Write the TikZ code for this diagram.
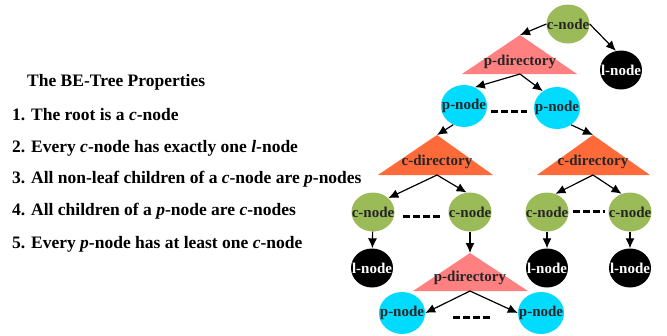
\documentclass[tikz,border=0pt]{standalone}
\usepackage{fontspec}
\setmainfont{Liberation Serif}
\usetikzlibrary{shapes.geometric,arrows.meta}
\definecolor{cgreen}{HTML}{9BBB59}
\definecolor{pcyan}{HTML}{00DBFF}
\definecolor{pdirc}{HTML}{FF8080}
\definecolor{cdirc}{HTML}{FF6A3A}
\newcommand\zw[1]{\makebox[0pt]{#1}}
\begin{document}
\begin{tikzpicture}[x=1pt,y=-1pt,
  basenode/.style={ellipse, inner sep=0pt, font=\fontsize{15}{15}\selectfont\bfseries},
  cnode/.style={basenode, fill=cgreen, text=black!85, minimum width=43pt, minimum height=39pt},
  lnode/.style={basenode, fill=black, text=white, minimum width=42pt, minimum height=39pt},
  pnode/.style={basenode, fill=pcyan, text=black!85, minimum width=46pt, minimum height=42pt},
  dirlabel/.style={inner sep=0pt, font=\fontsize{15}{15}\selectfont\bfseries, text=black!85},
  arr/.style={-{Latex[length=10pt,width=9pt]}, line width=1.2pt},
  dots/.style={line width=3pt, dash pattern=on 6.5pt off 3.5pt},
  prop/.style={anchor=base west, inner sep=0pt, font=\fontsize{17.5}{17.5}\selectfont\bfseries}]
\useasboundingbox (0,0) rectangle (667,335);

% left text
\node[prop] (t0) at (27,86.7) {The BE-Tree Properties};
\node[prop] (t1) at (12,120.5) {1. The root is a \textit{c}-node};
\node[prop] (t2) at (12,152) {2. Every \textit{c}-node has exactly one \textit{l}-node};
\node[prop] (t3) at (12,183.5) {3. All non-leaf children of a \textit{c}-node are \textit{p}-nodes};
\node[prop] (t4) at (12,215.5) {4. All children of a \textit{p}-node are \textit{c}-nodes};
\node[prop] (t5) at (12,248) {5. Every \textit{p}-node has at least one \textit{c}-node};

% triangles
\coordinate (pd1top) at (520,35); \coordinate (pd1bot) at (520,74);
\fill[pdirc] (462,74) -- (pd1top) -- (577,74) -- cycle;
\node[dirlabel] (pd1) at (520,62) {p-directory};

\coordinate (cd1top) at (437,135); \coordinate (cd1bot) at (437,175);
\fill[cdirc] (378,175) -- (cd1top) -- (493,175) -- cycle;
\node[dirlabel] (cd1) at (437,162) {c-directory};

\coordinate (cd2top) at (593,135); \coordinate (cd2bot) at (593,175);
\fill[cdirc] (537,175) -- (cd2top) -- (650,175) -- cycle;
\node[dirlabel] (cd2) at (593,162) {c-directory};

\coordinate (pd2top) at (470,253); \coordinate (pd2bot) at (470,291);
\fill[pdirc] (413,291) -- (pd2top) -- (528,291) -- cycle;
\node[dirlabel] (pd2) at (470,278) {p-directory};

% nodes
\node[cnode] (root) at (568,24) {\zw{c-node}};
\node[lnode] (l0) at (621,70) {\zw{l-node}};
\node[pnode] (pn1) at (464,106) {\zw{p-node}};
\node[pnode] (pn2) at (557,108) {\zw{p-node}};
\node[cnode] (cn1) at (373,212) {\zw{c-node}};
\node[cnode] (cn2) at (470,212) {\zw{c-node}};
\node[cnode] (cn3) at (547,212) {\zw{c-node}};
\node[cnode] (cn4) at (630,212) {\zw{c-node}};
\node[lnode] (l1) at (372,268) {\zw{l-node}};
\node[lnode] (l3) at (547,268) {\zw{l-node}};
\node[lnode] (l4) at (630,268) {\zw{l-node}};
\node[pnode] (pn3) at (402,313) {\zw{p-node}};
\node[pnode] (pn4) at (541,313) {\zw{p-node}};

% connectors
\draw[arr] (root.west) -- (pd1top);
\draw[arr] (root.east) -- (l0.105);
\draw[arr] (pd1bot) -- (pn1.60);
\draw[arr] (pd1bot) -- (pn2.130);
\draw[arr] (pn1.240) -- (cd1top);
\draw[arr] (pn2.-50) -- (cd2top);
\draw[arr] (cd1bot) -- (cn1.north east);
\draw[arr] (cd1bot) -- (cn2.100);
\draw[arr] (cd2bot) -- (cn3.65);
\draw[arr] (cd2bot) -- (cn4.115);
\draw[arr] (cn1) -- (l1);
\draw[arr] (cn3) -- (l3);
\draw[arr] (cn4) -- (l4);
\draw[arr] (cn2.south) -- (pd2top);
\draw[arr] (pd2bot) -- (pn3.east);
\draw[arr] (pd2bot) -- (pn4.west);

% dashes
\coordinate (da1) at (491,111); \coordinate (db1) at (527,111);
\coordinate (da2) at (403,216); \coordinate (db2) at (440,216);
\coordinate (da3) at (573,211); \coordinate (db3) at (605,211);
\coordinate (da4) at (453,317); \coordinate (db4) at (492,317);
\draw[dots] (da1) -- (db1);
\draw[dots] (da2) -- (db2);
\draw[dots] (da3) -- (db3);
\draw[dots] (da4) -- (db4);
\end{tikzpicture}
\end{document}
